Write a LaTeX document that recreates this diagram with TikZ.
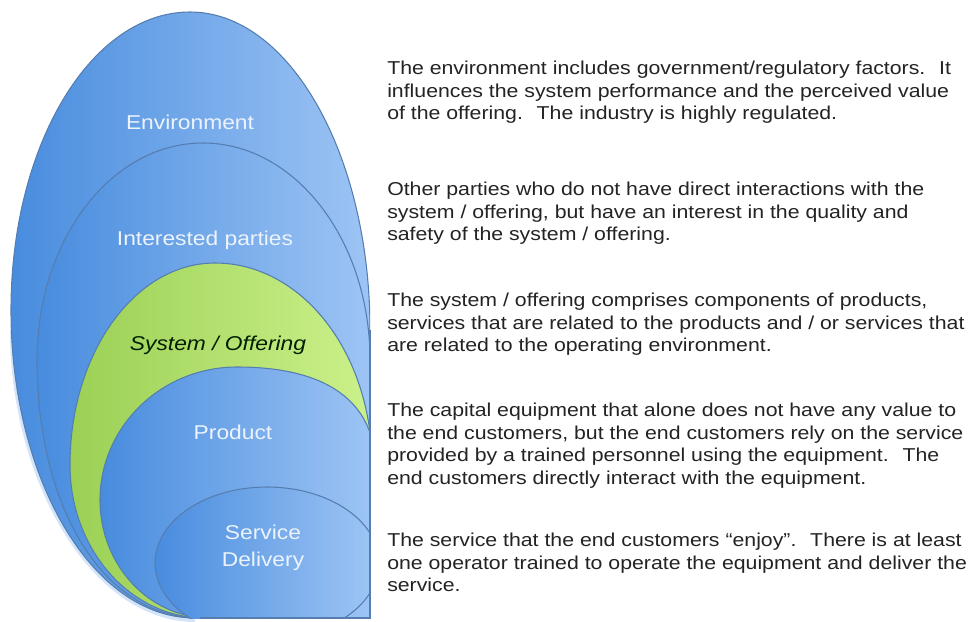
\documentclass[tikz,border=0pt]{standalone}
\usepackage{fontspec}
\setmainfont{Liberation Sans}
\newfontfamily\widesans[FakeStretch=1.14]{Liberation Sans}

\definecolor{bluedark}{RGB}{72,140,222}
\definecolor{bluelight}{RGB}{160,198,245}
\definecolor{greendark}{RGB}{155,208,85}
\definecolor{greenlight}{RGB}{205,242,140}
\definecolor{rim}{RGB}{85,125,175}
\definecolor{labelwhite}{RGB}{236,243,252}
\definecolor{textgray}{RGB}{35,35,35}

\tikzset{
  bluering/.style={draw=rim, line width=0.8pt, left color=bluedark, right color=bluelight},
  greenring/.style={draw=rim, line width=0.8pt, left color=greendark, right color=greenlight},
  ringtext/.style={text=labelwhite, align=center, inner sep=0pt,
    font=\widesans\fontsize{15}{20}\selectfont},
  desc/.style={anchor=north west, align=left, inner sep=0pt, text=textgray,
    font=\widesans\fontsize{14}{16.9}\selectfont}
}

\begin{document}
\begin{tikzpicture}[x=0.75pt,y=-0.75pt]
        \useasboundingbox (0,0) rectangle (976,622);

        % leichter Rand aussen
        \draw[bluelight!45, line width=3pt] (12,330) .. controls (12,480) and (93,620) .. (195,620);

        % Ringe
        \begin{scope}
          \clip (0,0) rectangle (370,618);
          % Environment
          \path[bluering] (370,330) .. controls (370,154) and (289,12) .. (190,12)
            .. controls (91,12) and (11,145) .. (11,310)
            .. controls (11,480) and (93,618) .. (195,618) -- (380,618) -- (380,330) -- cycle;
          % Interested parties
          \path[bluering] (370,360) .. controls (370,240) and (295,143) .. (203,143)
            .. controls (111,143) and (37,240) .. (37,360)
            .. controls (37,510) and (105,618) .. (200,618) -- (380,618) -- (380,360) -- cycle;
          % System / Offering
          \path[greenring] (372,465) .. controls (372,353) and (302,263) .. (215,263)
            .. controls (135,263) and (70,353) .. (70,465)
            .. controls (70,549) and (130,618) .. (205,618) -- (380,618) -- (380,465) -- cycle;
          % Product
          \path[bluering] (376,470) .. controls (376,400) and (325,367) .. (237,367)
            .. controls (161,367) and (100,427) .. (100,500)
            .. controls (100,565) and (149,618) .. (210,618) -- (380,618) -- (380,470) -- cycle;
          % Service Delivery
          \path[bluering] (267,563) ellipse (112 and 76);
        \end{scope}

        % Rand
        \draw[rim, line width=0.8pt] (370,330) -- (370,618) -- (200,618);

        % Beschriftung der Ringe
        \node[ringtext] (environment) at (190,122) {Environment};
        \node[ringtext] (interested) at (205,240) {Interested parties};
        \node[ringtext, text=black!80!green!60!black, font=\widesans\itshape\fontsize{15}{20}\selectfont] (system) at (218,345) {System / Offering};
        \node[ringtext] (product) at (233,432) {Product};
        \node[ringtext] (service) at (263,548) {Service\\Delivery};

        % Erklaerungen
        \node[desc] (envdesc) at (387,61) {The environment includes government/regulatory factors.~ It\\influences the system performance and the perceived value\\of the offering.~ The industry is highly regulated.};
        \node[desc] (interesteddesc) at (387,182) {Other parties who do not have direct interactions with the\\system / offering, but have an interest in the quality and\\safety of the system / offering.};
        \node[desc] (systemdesc) at (387,293) {The system / offering comprises components of products,\\services that are related to the products and / or services that\\are related to the operating environment.};
        \node[desc] (productdesc) at (387,403) {The capital equipment that alone does not have any value to\\the end customers, but the end customers rely on the service\\provided by a trained personnel using the equipment.~ The\\end customers directly interact with the equipment.};
        \node[desc] (servicedesc) at (387,533) {The service that the end customers “enjoy”.~ There is at least\\one operator trained to operate the equipment and deliver the\\service.};
    \end{tikzpicture}
\end{document}
